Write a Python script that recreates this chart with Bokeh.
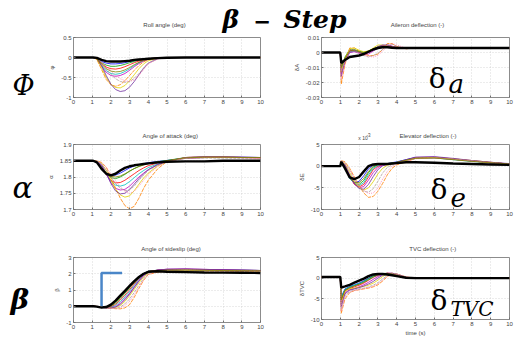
from bokeh.plotting import figure
from bokeh.layouts import row, column
from bokeh.models import Label, FixedTicker
from bokeh.embed import file_html
from bokeh.resources import INLINE

# ---------------- data ----------------
t = [0, 1.0, 1.05, 1.25, 1.5, 1.75, 2.0, 2.25, 2.5, 2.75, 3.0, 3.25, 3.5, 3.75,
     4.0, 4.5, 5.0, 6.0, 7.0, 8.0, 9.0, 10.0]
x_ticks = [0, 1, 2, 3, 4, 5, 6, 7, 8, 9, 10]

# Roll angle (deg)
roll_black = [0, 0, 0, -0.01, -0.06, -0.09, -0.1, -0.1, -0.1, -0.09, -0.08, -0.06, -0.05, -0.04, -0.03, -0.015, -0.005, 0, 0, 0, 0, 0]
roll_runs = [
    [0, 0, 0, -0.02, -0.1, -0.14, -0.16, -0.16, -0.15, -0.13, -0.1, -0.08, -0.06, -0.04, -0.03, -0.01, 0, 0, 0, 0, 0, 0],
    [0, 0, 0, -0.03, -0.13, -0.19, -0.22, -0.22, -0.2, -0.17, -0.13, -0.1, -0.07, -0.05, -0.03, -0.01, 0, 0, 0, 0, 0, 0],
    [0, 0, 0, -0.03, -0.15, -0.24, -0.28, -0.29, -0.27, -0.23, -0.18, -0.13, -0.09, -0.06, -0.03, -0.01, 0, 0, 0, 0, 0, 0],
    [0, 0, 0, -0.04, -0.2, -0.33, -0.4, -0.42, -0.4, -0.35, -0.28, -0.2, -0.13, -0.08, -0.04, -0.01, 0, 0, 0, 0, 0, 0],
    [0, 0, 0, -0.04, -0.22, -0.37, -0.45, -0.47, -0.45, -0.4, -0.32, -0.23, -0.15, -0.09, -0.05, -0.01, 0, 0, 0, 0, 0, 0],
    [0, 0, 0, -0.05, -0.3, -0.55, -0.68, -0.72, -0.68, -0.58, -0.45, -0.32, -0.2, -0.11, -0.05, -0.01, 0, 0, 0, 0, 0, 0],
    [0, 0, 0, -0.04, -0.25, -0.5, -0.67, -0.75, -0.76, -0.7, -0.58, -0.43, -0.28, -0.16, -0.08, -0.02, 0, 0, 0, 0, 0, 0],
    [0, 0, 0, -0.03, -0.2, -0.45, -0.67, -0.8, -0.85, -0.83, -0.74, -0.6, -0.43, -0.27, -0.14, -0.03, 0, 0, 0, 0, 0, 0],
    [0, 0, 0, -0.02, -0.12, -0.28, -0.42, -0.53, -0.6, -0.62, -0.6, -0.52, -0.4, -0.26, -0.14, -0.03, 0, 0, 0, 0, 0, 0],
    [0, 0, 0, -0.02, -0.1, -0.22, -0.34, -0.45, -0.53, -0.58, -0.6, -0.56, -0.45, -0.3, -0.16, -0.04, 0, 0, 0, 0, 0, 0],
    [0, 0, 0, -0.03, -0.17, -0.28, -0.34, -0.36, -0.35, -0.31, -0.25, -0.18, -0.12, -0.07, -0.04, -0.01, 0, 0, 0, 0, 0, 0],
]

# Aileron deflection (-)
ail_black = [0, 0, -0.007, -0.005, -0.003, -0.0025, -0.002, -0.001, 0.0005, 0.002, 0.003, 0.0035, 0.0035, 0.0032, 0.003, 0.003, 0.003, 0.003, 0.003, 0.003, 0.003, 0.003]
ail_runs = [
    [0, 0, -0.009, -0.004, 0.001, 0.0015, 0.0005, -0.0005, 0.0005, 0.002, 0.003, 0.004, 0.004, 0.0035, 0.003, 0.003, 0.003, 0.003, 0.003, 0.003, 0.003, 0.003],
    [0, 0, -0.011, -0.003, 0.002, 0.002, 0.0008, 0, 0.001, 0.0025, 0.0035, 0.0042, 0.004, 0.0035, 0.003, 0.003, 0.003, 0.003, 0.003, 0.003, 0.003, 0.003],
    [0, 0, -0.012, -0.004, 0.0015, 0.001, 0, -0.001, 0, 0.002, 0.0035, 0.0045, 0.0045, 0.004, 0.0035, 0.003, 0.003, 0.003, 0.003, 0.003, 0.003, 0.003],
    [0, 0, -0.01, -0.005, 0, 0.001, 0.0005, -0.0005, 0.0005, 0.002, 0.0035, 0.004, 0.004, 0.0035, 0.003, 0.003, 0.003, 0.003, 0.003, 0.003, 0.003, 0.003],
    [0, 0, -0.014, -0.006, 0, 0.0005, -0.0005, -0.0015, -0.001, 0.001, 0.003, 0.0045, 0.005, 0.0042, 0.0035, 0.003, 0.003, 0.003, 0.003, 0.003, 0.003, 0.003],
    [0, 0, -0.021, -0.008, 0.003, 0.003, 0.001, -0.001, -0.002, -0.002, -0.001, 0.002, 0.006, 0.006, 0.004, 0.0025, 0.003, 0.003, 0.003, 0.003, 0.003, 0.003],
    [0, 0, -0.013, -0.004, 0.0025, 0.003, 0.0015, 0.0005, 0.001, 0.003, 0.005, 0.005, 0.0045, 0.004, 0.0035, 0.003, 0.003, 0.003, 0.003, 0.003, 0.003, 0.003],
    [0, 0, -0.016, -0.006, 0.001, 0.001, 0, -0.001, 0, 0.002, 0.004, 0.005, 0.005, 0.004, 0.0035, 0.003, 0.003, 0.003, 0.003, 0.003, 0.003, 0.003],
    [0, 0, -0.012, -0.005, 0.001, 0.001, -0.0005, -0.002, -0.003, -0.002, -0.0005, 0.002, 0.005, 0.0055, 0.004, 0.0025, 0.003, 0.003, 0.003, 0.003, 0.003, 0.003],
    [0, 0, -0.018, -0.007, 0.002, 0.002, 0, -0.0015, -0.0025, -0.003, -0.002, 0.001, 0.004, 0.006, 0.005, 0.003, 0.003, 0.003, 0.003, 0.003, 0.003, 0.003],
    [0, 0, -0.01, -0.004, 0.001, 0.0015, 0.0005, 0, 0.001, 0.0025, 0.0035, 0.004, 0.004, 0.0035, 0.003, 0.003, 0.003, 0.003, 0.003, 0.003, 0.003, 0.003],
]

# Angle of attack (deg)
aoa_black = [1.85, 1.85, 1.85, 1.845, 1.825, 1.81, 1.805, 1.81, 1.82, 1.828, 1.833, 1.836, 1.838, 1.84, 1.842, 1.845, 1.847, 1.848, 1.848, 1.85, 1.85, 1.85]
aoa_runs = [
    [1.85, 1.85, 1.85, 1.846, 1.828, 1.812, 1.805, 1.806, 1.812, 1.82, 1.828, 1.834, 1.838, 1.841, 1.844, 1.848, 1.851, 1.858, 1.86, 1.86, 1.86, 1.86],
    [1.85, 1.85, 1.85, 1.847, 1.83, 1.81, 1.798, 1.795, 1.8, 1.808, 1.818, 1.826, 1.833, 1.838, 1.842, 1.847, 1.851, 1.86, 1.861, 1.861, 1.86, 1.86],
    [1.85, 1.85, 1.85, 1.847, 1.832, 1.808, 1.79, 1.782, 1.783, 1.79, 1.8, 1.81, 1.82, 1.828, 1.835, 1.843, 1.849, 1.858, 1.86, 1.86, 1.86, 1.858],
    [1.85, 1.85, 1.85, 1.848, 1.834, 1.81, 1.787, 1.775, 1.772, 1.776, 1.786, 1.798, 1.81, 1.82, 1.829, 1.84, 1.848, 1.859, 1.862, 1.862, 1.861, 1.86],
    [1.85, 1.85, 1.85, 1.848, 1.836, 1.81, 1.783, 1.765, 1.76, 1.762, 1.772, 1.786, 1.8, 1.812, 1.823, 1.838, 1.847, 1.86, 1.862, 1.862, 1.861, 1.86],
    [1.85, 1.85, 1.85, 1.849, 1.845, 1.83, 1.8, 1.765, 1.735, 1.712, 1.702, 1.71, 1.735, 1.765, 1.79, 1.825, 1.848, 1.86, 1.862, 1.862, 1.86, 1.86],
    [1.85, 1.85, 1.85, 1.849, 1.842, 1.82, 1.79, 1.762, 1.745, 1.738, 1.742, 1.758, 1.778, 1.797, 1.812, 1.834, 1.847, 1.86, 1.861, 1.861, 1.86, 1.86],
    [1.85, 1.85, 1.85, 1.848, 1.838, 1.812, 1.78, 1.757, 1.748, 1.75, 1.762, 1.778, 1.795, 1.81, 1.822, 1.838, 1.848, 1.86, 1.862, 1.862, 1.861, 1.86],
    [1.85, 1.85, 1.85, 1.849, 1.84, 1.822, 1.8, 1.78, 1.765, 1.758, 1.76, 1.772, 1.79, 1.806, 1.82, 1.836, 1.847, 1.857, 1.858, 1.858, 1.857, 1.856],
    [1.85, 1.85, 1.85, 1.849, 1.844, 1.83, 1.81, 1.788, 1.77, 1.756, 1.75, 1.756, 1.772, 1.79, 1.808, 1.832, 1.847, 1.858, 1.86, 1.86, 1.859, 1.858],
    [1.85, 1.85, 1.85, 1.847, 1.83, 1.812, 1.802, 1.8, 1.803, 1.81, 1.818, 1.826, 1.832, 1.837, 1.841, 1.846, 1.85, 1.859, 1.861, 1.861, 1.86, 1.86],
]

# Elevator deflection (-), in units of 1e-3
elev_black = [0, 0, 1.0, -0.5, -2.6, -3.0, -2.5, -1.2, 0, 0.4, 0.5, 0.5, 0.5, 0.6, 0.7, 0.9, 0.9, 0.8, 0.6, 0.5, 0.4, 0.3]
elev_runs = [
    [0, 0, 1.1, -0.3, -2.8, -3.8, -3.5, -2.2, -0.6, 0.2, 0.4, 0.5, 0.6, 0.8, 1.0, 1.5, 2.0, 2.0, 1.6, 1.2, 0.8, 0.5],
    [0, 0, 1.1, -0.2, -2.7, -4.0, -4.2, -3.3, -1.5, -0.2, 0.3, 0.4, 0.5, 0.7, 0.9, 1.4, 1.9, 2.0, 1.6, 1.2, 0.8, 0.5],
    [0, 0, 1.2, 0, -2.5, -4.2, -4.8, -4.2, -2.5, -0.8, 0, 0.3, 0.4, 0.6, 0.8, 1.3, 1.8, 1.9, 1.6, 1.2, 0.8, 0.5],
    [0, 0, 1.0, -0.2, -2.8, -4.0, -4.5, -3.8, -2.0, -0.5, 0.2, 0.4, 0.5, 0.7, 0.9, 1.3, 1.8, 1.9, 1.5, 1.1, 0.8, 0.5],
    [0, 0, 1.2, 0.2, -2.2, -4.1, -5.0, -4.7, -3.2, -1.5, -0.3, 0.2, 0.4, 0.6, 0.8, 1.4, 2.0, 2.1, 1.7, 1.3, 0.9, 0.5],
    [0, 0, 1.3, 1.0, -0.5, -2.5, -4.5, -6.2, -7.2, -7.0, -5.8, -4.0, -2.0, -0.5, 0.3, 1.0, 1.8, 2.0, 1.6, 1.2, 0.8, 0.5],
    [0, 0, 1.2, 0.6, -1.5, -3.6, -5.0, -5.5, -5.0, -3.6, -1.8, -0.5, 0.2, 0.5, 0.8, 1.3, 1.9, 2.0, 1.7, 1.3, 0.9, 0.5],
    [0, 0, 1.1, 0.3, -2.0, -4.0, -5.2, -5.3, -4.2, -2.4, -0.8, 0.1, 0.4, 0.6, 0.9, 1.5, 2.1, 2.2, 1.8, 1.3, 0.9, 0.6],
    [0, 0, 1.2, 0.8, -1.0, -3.0, -4.8, -5.8, -6.0, -5.2, -3.5, -1.6, -0.3, 0.3, 0.7, 1.2, 1.8, 1.9, 1.6, 1.2, 0.8, 0.5],
    [0, 0, 1.2, 0.8, -0.8, -2.8, -4.5, -5.6, -6.3, -6.2, -5.0, -3.0, -1.2, 0, 0.5, 1.1, 1.7, 1.9, 1.6, 1.2, 0.8, 0.5],
    [0, 0, 1.0, -0.3, -2.7, -3.7, -3.8, -2.8, -1.2, 0, 0.4, 0.5, 0.6, 0.7, 0.9, 1.4, 1.8, 1.9, 1.5, 1.1, 0.8, 0.5],
]

# Angle of sideslip (deg)
beta_black = [0, 0, 0, -0.02, -0.08, -0.05, 0.1, 0.35, 0.65, 0.95, 1.25, 1.55, 1.8, 2.0, 2.12, 2.15, 2.12, 2.1, 2.08, 2.07, 2.06, 2.05]
beta_runs = [
    [0, 0, 0, -0.02, -0.07, -0.06, 0.05, 0.28, 0.58, 0.9, 1.22, 1.53, 1.8, 2.02, 2.15, 2.22, 2.25, 2.26, 2.25, 2.23, 2.22, 2.2],
    [0, 0, 0, -0.02, -0.07, -0.07, 0.0, 0.2, 0.48, 0.8, 1.13, 1.46, 1.75, 2.0, 2.15, 2.22, 2.25, 2.26, 2.24, 2.22, 2.21, 2.2],
    [0, 0, 0, -0.02, -0.07, -0.08, -0.04, 0.12, 0.38, 0.68, 1.02, 1.38, 1.7, 1.96, 2.13, 2.22, 2.25, 2.27, 2.25, 2.23, 2.21, 2.2],
    [0, 0, 0, -0.02, -0.07, -0.09, -0.07, 0.05, 0.28, 0.57, 0.92, 1.3, 1.65, 1.93, 2.1, 2.2, 2.23, 2.25, 2.24, 2.22, 2.21, 2.2],
    [0, 0, 0, -0.02, -0.07, -0.1, -0.1, -0.02, 0.18, 0.46, 0.8, 1.2, 1.58, 1.9, 2.1, 2.22, 2.28, 2.3, 2.27, 2.24, 2.22, 2.2],
    [0, 0, 0, -0.01, -0.04, -0.08, -0.12, -0.15, -0.16, -0.1, 0.1, 0.55, 1.1, 1.6, 1.95, 2.1, 2.15, 2.18, 2.17, 2.16, 2.15, 2.15],
    [0, 0, 0, -0.02, -0.06, -0.1, -0.12, -0.08, 0.05, 0.3, 0.65, 1.05, 1.45, 1.8, 2.05, 2.18, 2.22, 2.24, 2.22, 2.2, 2.19, 2.18],
    [0, 0, 0, -0.02, -0.07, -0.1, -0.11, -0.05, 0.12, 0.4, 0.75, 1.15, 1.55, 1.88, 2.1, 2.22, 2.28, 2.3, 2.27, 2.24, 2.22, 2.2],
    [0, 0, 0, -0.01, -0.05, -0.09, -0.12, -0.12, -0.05, 0.15, 0.45, 0.85, 1.3, 1.7, 2.0, 2.15, 2.2, 2.22, 2.2, 2.18, 2.17, 2.16],
    [0, 0, 0, -0.01, -0.05, -0.09, -0.13, -0.14, -0.1, 0.05, 0.3, 0.7, 1.18, 1.62, 1.95, 2.15, 2.2, 2.23, 2.21, 2.19, 2.18, 2.17],
    [0, 0, 0, -0.02, -0.07, -0.06, 0.02, 0.24, 0.52, 0.84, 1.17, 1.5, 1.78, 2.0, 2.14, 2.2, 2.22, 2.22, 2.21, 2.2, 2.19, 2.18],
]
# commanded sideslip step
step_t = [1.5, 1.5, 2.6]
step_v = [0, 2.05, 2.05]

# TVC deflection (-)
tvc_black = [0.3, 0.3, -2.3, -2.0, -1.6, -1.1, -0.6, -0.1, 0.5, 0.9, 1.0, 1.0, 0.9, 0.7, 0.5, 0.1, 0, 0, 0, 0, 0, 0]
tvc_runs = [
    [0.3, 0.3, -4.5, -2.6, -2.0, -1.6, -1.2, -0.6, 0, 0.6, 0.9, 1.1, 1.1, 1.0, 0.7, 0.1, 0, 0, 0, 0, 0, 0],
    [0.3, 0.3, -5.0, -2.8, -2.2, -1.8, -1.4, -0.8, -0.1, 0.5, 0.9, 1.1, 1.2, 1.0, 0.7, 0.1, 0, 0, 0, 0, 0, 0],
    [0.3, 0.3, -5.5, -3.0, -2.5, -2.1, -1.7, -1.2, -0.5, 0.2, 0.7, 1.0, 1.2, 1.1, 0.8, 0.1, 0, 0, 0, 0, 0, 0],
    [0.3, 0.3, -4.8, -2.7, -2.1, -1.7, -1.3, -0.9, -0.3, 0.3, 0.8, 1.0, 1.1, 1.0, 0.7, 0.1, 0, 0, 0, 0, 0, 0],
    [0.3, 0.3, -6.5, -3.5, -2.8, -2.5, -2.1, -1.6, -1.0, -0.3, 0.4, 0.9, 1.2, 1.2, 0.9, 0.2, 0, 0, 0, 0, 0, 0],
    [0.3, 0.3, -8.5, -5.0, -3.5, -3.0, -2.8, -2.6, -2.4, -2.1, -1.6, -0.7, 0.4, 1.0, 1.0, 0.3, 0, 0, 0, 0, 0, 0],
    [0.3, 0.3, -6.0, -3.2, -2.6, -2.4, -2.2, -2.0, -1.7, -1.2, -0.5, 0.4, 1.0, 1.2, 1.0, 0.2, 0, 0, 0, 0, 0, 0],
    [0.3, 0.3, -7.0, -3.8, -2.9, -2.6, -2.3, -1.9, -1.4, -0.8, 0, 0.7, 1.1, 1.2, 1.0, 0.2, 0, 0, 0, 0, 0, 0],
    [0.3, 0.3, -7.5, -4.2, -3.2, -2.9, -2.6, -2.4, -2.1, -1.7, -1.1, -0.2, 0.7, 1.1, 1.0, 0.3, 0, 0, 0, 0, 0, 0],
    [0.3, 0.3, -8.0, -4.5, -3.4, -3.0, -2.8, -2.5, -2.3, -2.0, -1.4, -0.5, 0.5, 1.0, 1.0, 0.3, 0, 0, 0, 0, 0, 0],
    [0.3, 0.3, -5.2, -2.9, -2.3, -1.9, -1.5, -1.0, -0.4, 0.3, 0.8, 1.0, 1.1, 1.0, 0.7, 0.1, 0, 0, 0, 0, 0, 0],
]

run_colors = ["#0000ff", "#00a000", "#ff0000", "#00c0c0", "#c000c0", "#ff8000",
              "#e0d000", "#7030a0", "#b0a0a0", "#ff80b0", "#808000"]
run_dashes = ["solid", "solid", "solid", "solid", "solid", "4 1",
              "solid", "solid", "3 1", "1 1", "solid"]

roll_ticks = [-1, -0.5, 0, 0.5]
roll_labels = ["-1", "-0.5", "0", "0.5"]
ail_ticks = [-0.03, -0.02, -0.01, 0, 0.01]
ail_labels = ["-0.03", "-0.02", "-0.01", "0", "0.01"]
aoa_ticks = [1.7, 1.75, 1.8, 1.85, 1.9]
aoa_labels = ["1.7", "1.75", "1.8", "1.85", "1.9"]
elev_ticks = [-10, -5, 0, 5]
elev_labels = ["-10", "-5", "0", "5"]
beta_ticks = [-1, 0, 1, 2, 3]
beta_labels = ["-1", "0", "1", "2", "3"]
tvc_ticks = [-10, -5, 0, 5]
tvc_labels = ["-10", "-5", "0", "5"]

SANS = "Liberation Sans"
SERIF = "DejaVu Serif"
TXT = "#444444"
LIFT = 0.37   # measured drop of an alphabetic-baseline label, in em


def make_panel(width, height, yr, yticks, ylabels, ylab, bl, br, bt, bb,
               runs, black, xlabel=None):
    p = figure(width=width, height=height, x_range=(0, 10), y_range=yr,
               output_backend="svg", toolbar_location=None,
               min_border_left=bl, min_border_right=br,
               min_border_top=bt, min_border_bottom=bb)
    p.background_fill_color = "white"
    p.border_fill_color = "white"
    p.outline_line_color = "#6f6f6f"
    p.outline_line_width = 0.8
    for ax in (p.xaxis, p.yaxis):
        ax.axis_line_color = None
        ax.major_tick_in = 2
        ax.major_tick_out = 0
        ax.major_tick_line_color = "#6f6f6f"
        ax.minor_tick_line_color = None
        ax.major_label_text_font = SANS
        ax.major_label_text_font_size = "6px"
        ax.major_label_text_color = TXT
        ax.major_label_standoff = 2
        ax.axis_label_text_font = SANS
        ax.axis_label_text_font_size = "6px"
        ax.axis_label_text_font_style = "normal"
        ax.axis_label_text_color = TXT
        ax.axis_label_standoff = 3
    p.xaxis.ticker = FixedTicker(ticks=x_ticks)
    p.yaxis.ticker = FixedTicker(ticks=yticks)
    p.yaxis.major_label_overrides = {v: s for v, s in zip(yticks, ylabels)}
    p.yaxis.axis_label = ylab
    if xlabel:
        p.xaxis.axis_label = xlabel
        p.xaxis.axis_label_standoff = 1
    p.grid.grid_line_color = "#c8c8c8"
    p.grid.grid_line_dash = "1 2"
    p.grid.grid_line_width = 0.7
    for vals, c, d in zip(runs, run_colors, run_dashes):
        p.line(t, vals, line_color=c, line_width=0.8, line_dash=d)
    p.line(t, black, line_color="black", line_width=2.4)
    return p


def blank(width, height):
    f = figure(width=width, height=height, x_range=(0, width), y_range=(0, height),
               output_backend="svg", toolbar_location=None,
               x_axis_type=None, y_axis_type=None, min_border=0)
    f.outline_line_color = None
    f.background_fill_color = "white"
    f.border_fill_color = "white"
    return f


def txt(p, text, x, y, size, style="italic", font=SERIF, align="left", color="black"):
    p.add_layout(Label(x=x, y=y, text=text, text_font=font, text_font_size=f"{size}px",
                       text_font_style=style, text_color=color, text_align=align,
                       text_baseline="alphabetic"))


def ptxt(p, text, x, base_px, size, **kw):
    """label in a blank pixel-unit figure; base_px = baseline height above bottom"""
    txt(p, text, x, base_px + LIFT * size, size, **kw)


def dtxt(p, text, x, y, size, px_per_unit, **kw):
    """label in data units of a panel, lifted to compensate the baseline drop"""
    txt(p, text, x, y + LIFT * size / px_per_unit, size, **kw)


W = 516
SYM_W, LW, RW = 44, 232, 240
HEAD_H = 35
H1, S3, H3, S5, H5 = 92, 13, 100, 13, 85

p1 = make_panel(LW, H1, (-1, 0.5), roll_ticks, roll_labels, "φ",
                24, 16, 2, 30, roll_runs, roll_black)
p2 = make_panel(RW, H1, (-0.03, 0.01), ail_ticks, ail_labels, "δA",
                45, 7, 2, 30, ail_runs, ail_black)
p3 = make_panel(LW, H3, (1.7, 1.9), aoa_ticks, aoa_labels, "α",
                24, 16, 4, 31, aoa_runs, aoa_black)
p4 = make_panel(RW, H3, (-10, 5), elev_ticks, elev_labels, "δE",
                45, 7, 4, 31, elev_runs, elev_black)
p5 = make_panel(LW, H5, (-1, 3), beta_ticks, beta_labels, "β",
                24, 16, 4, 16, beta_runs, beta_black)
p5.line(step_t, step_v, line_color="#4a86c8", line_width=2.5)
p6 = make_panel(RW, H5, (-10, 5), tvc_ticks, tvc_labels, "δTVC",
                45, 7, 4, 16, tvc_runs, tvc_black, xlabel="time (s)")

# header: main title and the two top panel titles
head = blank(W, HEAD_H)
ptxt(head, "Roll angle (deg)", 164, 8, 6, style="normal", font=SANS, align="center", color=TXT)
ptxt(head, "Aileron deflection (-)", 417, 8, 6, style="normal", font=SANS, align="center", color=TXT)
ptxt(head, "β", 222, 6.5, 25, style="bold italic")
ptxt(head, "−", 253, 6.5, 21, style="bold", font="DejaVu Sans")
ptxt(head, "Step", 283, 6.5, 25, style="bold italic")

# title strips above rows 2 and 3
s3 = blank(LW, S3)
ptxt(s3, "Angle of attack (deg)", 120, 2, 6, style="normal", font=SANS, align="center", color=TXT)
s4 = blank(RW, S3)
ptxt(s4, "Elevator deflection (-)", 136, 2, 6, style="normal", font=SANS, align="center", color=TXT)
ptxt(s4, "x 10", 47, 1, 5, style="normal", font=SANS, color=TXT)
ptxt(s4, "-3", 57.5, 3.5, 4.5, style="normal", font=SANS, color=TXT)
s5 = blank(LW, S5)
ptxt(s5, "Angle of sideslip (deg)", 121, 2, 6, style="normal", font=SANS, align="center", color=TXT)
s6 = blank(RW, S5)
ptxt(s6, "TVC deflection (-)", 142, 2, 6, style="normal", font=SANS, align="center", color=TXT)

# left column: state symbols
sym = blank(SYM_W, H1 + S3 + H3 + S5 + H5)
ptxt(sym, "Φ", 12, 243, 27, style="italic")
ptxt(sym, "α", 12, 140, 30, style="italic")
ptxt(sym, "β", 10, 29, 28, style="bold italic")

# control symbols inside the right panels (data coordinates)
dtxt(p2, "δ", 5.7, -0.024, 28, 1500.0, style="normal")
dtxt(p2, "a", 6.76, -0.0273, 26, 1500.0, style="italic")
dtxt(p4, "δ", 5.8, -7.7, 28, 65 / 15, style="normal")
dtxt(p4, "e", 6.86, -9.5, 26, 65 / 15, style="italic")
dtxt(p6, "δ", 5.8, -7.7, 28, 65 / 15, style="normal")
dtxt(p6, "TVC", 6.86, -9.1, 20, 65 / 15, style="italic")

layout = column(head,
                row(sym,
                    column(p1, s3, p3, s5, p5),
                    column(p2, s4, p4, s6, p6)))
open("out.html", "w").write(file_html(layout, INLINE))
